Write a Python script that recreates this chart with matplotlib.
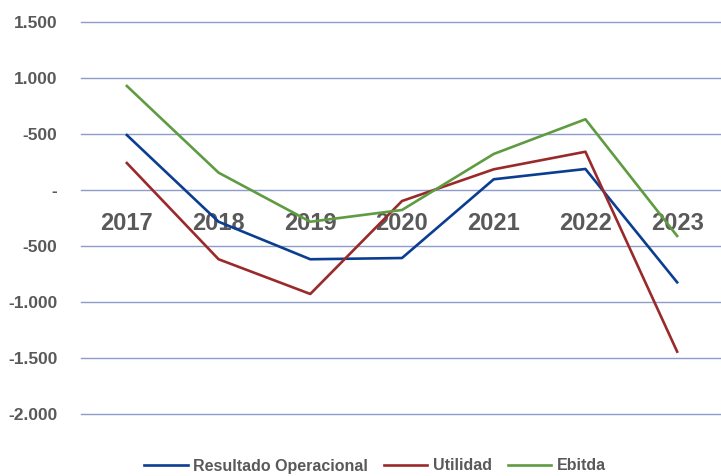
import matplotlib.pyplot as plt
from matplotlib.ticker import FixedLocator, FixedFormatter

plt.rcParams['font.family'] = ['Liberation Sans', 'DejaVu Sans']

# data
years = ["2017", "2018", "2019", "2020", "2021", "2022", "2023"]
resultado_operacional = [488, -286, -621, -610, 93, 185, -827]
utilidad = [238, -621, -931, -101, 182, 339, -1446]
ebitda = [926, 152, -286, -181, 319, 629, -413]

y_ticks = [1500, 1000, 500, 0, -500, -1000, -1500, -2000]
y_labels = ["1.500", "1.000", "-500", "-", "-500", "-1.000", "-1.500", "-2.000"]

GRAY = "#595959"

fig = plt.figure(figsize=(7.21, 4.76), dpi=100)
ax = fig.add_axes([81 / 721, 62.3 / 476, 642 / 721, 392 / 476])

x = range(len(years))
ax.plot(x, resultado_operacional, color="#0B3D91", lw=1.9, label="Resultado Operacional")
ax.plot(x, utilidad, color="#9A2A2A", lw=1.9, label="Utilidad")
ax.plot(x, ebitda, color="#5F9B41", lw=1.9, label="Ebitda")

ax.set_xlim(-0.5, len(years) - 0.5)
ax.set_ylim(-2000, 1500)

# horizontal gridlines
ax.yaxis.set_major_locator(FixedLocator(y_ticks))
ax.yaxis.set_major_formatter(FixedFormatter(y_labels))
ax.grid(axis="y", color="#8E9CC9", lw=1)
ax.set_axisbelow(True)
for gl in ax.get_ygridlines():
    gl.set_clip_on(False)

for s in ax.spines.values():
    s.set_visible(False)

# category axis crosses at zero, labels drawn just below it
ax.spines["bottom"].set_position(("data", 0))
ax.set_xticks(list(x))
ax.set_xticklabels(years)
ax.tick_params(axis="x", length=0, pad=16, labelsize=17, labelcolor=GRAY)
for lab in ax.get_xticklabels():
    lab.set_fontweight("bold")

ax.tick_params(axis="y", length=0, pad=17, labelsize=12.5, labelcolor=GRAY)
for lab in ax.get_yticklabels():
    lab.set_fontweight("bold")

leg = fig.legend(loc="center", bbox_to_anchor=(375 / 721, 1 - 466 / 476), ncol=3,
                 frameon=False, handlelength=2.7, handletextpad=0.35, columnspacing=1.0,
                 prop={"size": 11.5, "weight": "bold"})
for t in leg.get_texts():
    t.set_color(GRAY)

fig.savefig("out.png", dpi=100)
